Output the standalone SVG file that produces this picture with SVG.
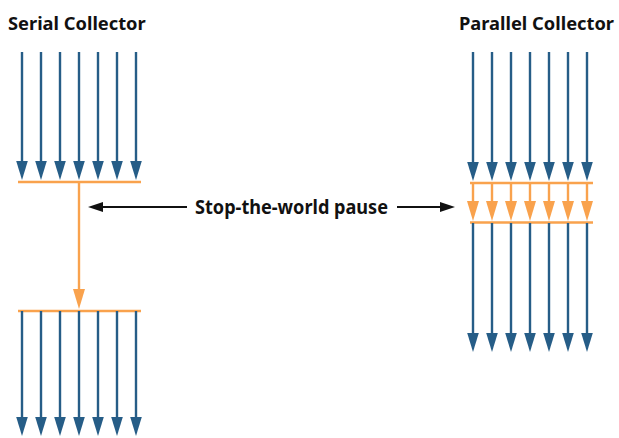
<svg xmlns="http://www.w3.org/2000/svg" width="619" height="438" viewBox="0 0 619 438">
  <style>
    .title { font-family: "Noto Sans", "Open Sans", "DejaVu Sans", sans-serif; font-weight: bold; font-size: 18.3px; fill: #111; }
    .label { font-family: "Noto Sans", "Open Sans", "DejaVu Sans", sans-serif; font-weight: bold; font-size: 19px; fill: #111; }
    .thread { stroke: #265d87; stroke-width: 2.4; fill: none; marker-end: url(#headBlue); }
    .gc { stroke: #f9a24d; stroke-width: 2.4; fill: none; marker-end: url(#headOrange); }
    .bar { stroke: #f9a24d; stroke-width: 2.6; fill: none; }
    .pointer { stroke: #111; stroke-width: 2.2; fill: none; marker-end: url(#headBlack); }
  </style>
  <defs>
    <marker id="headBlue" markerUnits="userSpaceOnUse" markerWidth="20" markerHeight="12" refX="11" refY="6" orient="auto" viewBox="0 0 20 12">
      <path d="M0,0.2 L19,6 L0,11.8 z" fill="#265d87"/>
    </marker>
    <marker id="headOrange" markerUnits="userSpaceOnUse" markerWidth="21" markerHeight="13" refX="12" refY="6.5" orient="auto" viewBox="0 0 21 13">
      <path d="M0,0.5 L20,6.5 L0,12.5 z" fill="#f9a24d"/>
    </marker>
    <marker id="headBlack" markerUnits="userSpaceOnUse" markerWidth="16" markerHeight="11" refX="8" refY="5.5" orient="auto" viewBox="0 0 16 11">
      <path d="M0,0.5 L15,5.5 L0,10.5 z" fill="#111"/>
    </marker>
  </defs>

  <!-- Serial collector: application threads, single GC thread, application threads -->
  <g id="serial">
    <text class="title" x="8" y="30">Serial Collector</text>
    <g id="serial-threads-before">
      <line class="thread" x1="22" y1="52" x2="22" y2="172"/>
      <line class="thread" x1="41" y1="52" x2="41" y2="172"/>
      <line class="thread" x1="60" y1="52" x2="60" y2="172"/>
      <line class="thread" x1="79" y1="52" x2="79" y2="172"/>
      <line class="thread" x1="98" y1="52" x2="98" y2="172"/>
      <line class="thread" x1="117" y1="52" x2="117" y2="172"/>
      <line class="thread" x1="136" y1="52" x2="136" y2="172"/>
    </g>
    <line class="bar" x1="18" y1="182" x2="141" y2="182"/>
    <g id="serial-gc">
      <line class="gc" x1="79" y1="182" x2="79" y2="301"/>
    </g>
    <line class="bar" x1="18" y1="311" x2="141" y2="311"/>
    <g id="serial-threads-after">
      <line class="thread" x1="22" y1="311" x2="22" y2="428"/>
      <line class="thread" x1="41" y1="311" x2="41" y2="428"/>
      <line class="thread" x1="60" y1="311" x2="60" y2="428"/>
      <line class="thread" x1="79" y1="311" x2="79" y2="428"/>
      <line class="thread" x1="98" y1="311" x2="98" y2="428"/>
      <line class="thread" x1="117" y1="311" x2="117" y2="428"/>
      <line class="thread" x1="136" y1="311" x2="136" y2="428"/>
    </g>
  </g>

  <!-- Parallel collector: application threads, parallel GC threads, application threads -->
  <g id="parallel">
    <text class="title" x="459" y="30">Parallel Collector</text>
    <g id="parallel-threads-before">
      <line class="thread" x1="473" y1="52" x2="473" y2="173"/>
      <line class="thread" x1="492" y1="52" x2="492" y2="173"/>
      <line class="thread" x1="511" y1="52" x2="511" y2="173"/>
      <line class="thread" x1="530" y1="52" x2="530" y2="173"/>
      <line class="thread" x1="549" y1="52" x2="549" y2="173"/>
      <line class="thread" x1="568" y1="52" x2="568" y2="173"/>
      <line class="thread" x1="587" y1="52" x2="587" y2="173"/>
    </g>
    <line class="bar" x1="470" y1="183" x2="593" y2="183"/>
    <g id="parallel-gc">
      <line class="gc" x1="473" y1="183" x2="473" y2="213"/>
      <line class="gc" x1="492" y1="183" x2="492" y2="213"/>
      <line class="gc" x1="511" y1="183" x2="511" y2="213"/>
      <line class="gc" x1="530" y1="183" x2="530" y2="213"/>
      <line class="gc" x1="549" y1="183" x2="549" y2="213"/>
      <line class="gc" x1="568" y1="183" x2="568" y2="213"/>
      <line class="gc" x1="587" y1="183" x2="587" y2="213"/>
    </g>
    <line class="bar" x1="470" y1="222.5" x2="593" y2="222.5"/>
    <g id="parallel-threads-after">
      <line class="thread" x1="473" y1="223" x2="473" y2="344"/>
      <line class="thread" x1="492" y1="223" x2="492" y2="344"/>
      <line class="thread" x1="511" y1="223" x2="511" y2="344"/>
      <line class="thread" x1="530" y1="223" x2="530" y2="344"/>
      <line class="thread" x1="549" y1="223" x2="549" y2="344"/>
      <line class="thread" x1="568" y1="223" x2="568" y2="344"/>
      <line class="thread" x1="587" y1="223" x2="587" y2="344"/>
    </g>
  </g>

  <!-- Pause label with pointers to both collectors -->
  <g id="pause-label">
    <text class="label" x="195" y="214" textLength="193" lengthAdjust="spacingAndGlyphs">Stop-the-world pause</text>
  </g>
  <g id="connectors">
    <line class="pointer" x1="187" y1="207" x2="95" y2="207"/>
    <line class="pointer" x1="397" y1="207" x2="448" y2="207"/>
  </g>
</svg>
